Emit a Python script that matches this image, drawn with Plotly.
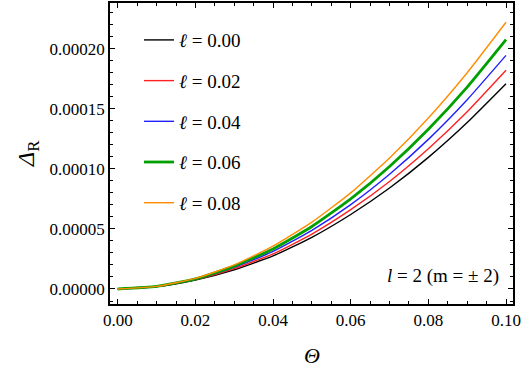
import plotly.graph_objects as go

# Theta grid 0..0.1
theta = [0.0, 0.01, 0.02, 0.03, 0.04, 0.05, 0.06, 0.07, 0.08, 0.09, 0.10]

d_000 = [0, 2.0e-6, 7.5e-6, 1.60e-5, 2.75e-5, 4.30e-5, 6.20e-5, 8.40e-5, 1.095e-4, 1.385e-4, 1.708e-4]
d_002 = [0, 2.0e-6, 7.8e-6, 1.70e-5, 2.92e-5, 4.57e-5, 6.60e-5, 8.95e-5, 1.167e-4, 1.475e-4, 1.820e-4]
d_004 = [0, 2.1e-6, 8.1e-6, 1.80e-5, 3.12e-5, 4.88e-5, 7.02e-5, 9.55e-5, 1.245e-4, 1.575e-4, 1.944e-4]
d_006 = [0, 2.1e-6, 8.4e-6, 1.90e-5, 3.33e-5, 5.20e-5, 7.50e-5, 1.02e-4, 1.330e-4, 1.680e-4, 2.075e-4]
d_008 = [0, 2.2e-6, 8.8e-6, 2.00e-5, 3.56e-5, 5.56e-5, 8.00e-5, 1.09e-4, 1.423e-4, 1.800e-4, 2.220e-4]

names = ["0.00", "0.02", "0.04", "0.06", "0.08"]
series = [d_000, d_002, d_004, d_006, d_008]
colors = ["#000000", "#ff2020", "#2020ff", "#00a000", "#ff8c00"]
widths = [1.4, 1.4, 1.4, 2.8, 1.4]

yticks = [0, 0.00005, 0.0001, 0.00015, 0.0002]
ylabels = ["0.00000", "0.00005", "0.00010", "0.00015", "0.00020"]
xticks = [0, 0.02, 0.04, 0.06, 0.08, 0.10]
xlabels = ["0.00", "0.02", "0.04", "0.06", "0.08", "0.10"]

FONT = "Liberation Serif, Times New Roman, serif"

fig = go.Figure()
for i, (nm, ys) in enumerate(zip(names, series)):
    fig.add_trace(go.Scatter(
        x=theta, y=ys, mode="lines", name="<i>ℓ</i> = " + nm,
        legendgroup=str(i),
        line=dict(color=colors[i], width=widths[i], shape="spline", smoothing=0.5),
    ))

axis_common = dict(
    showline=True, linecolor="black", linewidth=1.5, mirror="ticks",
    ticks="inside", ticklen=5, tickwidth=1, tickcolor="black",
    showgrid=False, zeroline=False,
    tickfont=dict(family=FONT, size=17, color="black"),
    minor=dict(ticks="inside", ticklen=3, tickcolor="black", tickwidth=1),
)

fig.update_xaxes(range=[-0.002, 0.1018], tickvals=xticks, ticktext=xlabels,
                 minor_dtick=0.005, **axis_common)
fig.update_yaxes(range=[-0.0000125, 0.000238], tickvals=yticks, ticktext=ylabels,
                 minor_dtick=0.00001, **axis_common)

fig.add_annotation(x=0.97, y=0.092, xref="paper", yref="paper", showarrow=False,
                   text="<i>l</i> = 2 (m = ± 2)", xanchor="right", yanchor="middle",
                   font=dict(family=FONT, size=19, color="black"))
fig.add_annotation(x=-0.205, y=0.5, xref="paper", yref="paper", showarrow=False,
                   text="<i>Δ</i><sub>R</sub>", textangle=-90,
                   xanchor="center", yanchor="middle",
                   font=dict(family=FONT, size=24, color="black"))
fig.add_annotation(x=0.5, y=-0.17, xref="paper", yref="paper", showarrow=False,
                   text="<i>Θ</i>", yanchor="middle",
                   font=dict(family=FONT, size=22, color="black"))

fig.update_layout(
    width=523, height=373,
    margin=dict(l=110, r=10, t=1, b=69),
    paper_bgcolor="white", plot_bgcolor="white",
    font=dict(family=FONT, color="black"),
    legend=dict(x=0.072, y=0.94, xanchor="left", yanchor="top",
                bgcolor="rgba(0,0,0,0)", tracegroupgap=13,
                font=dict(family=FONT, size=19, color="black"), itemwidth=30),
)

# page body has a default 8px margin, drop it so the figure fills the window
fig.write_html("out.html", config={"displayModeBar": False},
               post_script="document.body.style.margin='0';")
